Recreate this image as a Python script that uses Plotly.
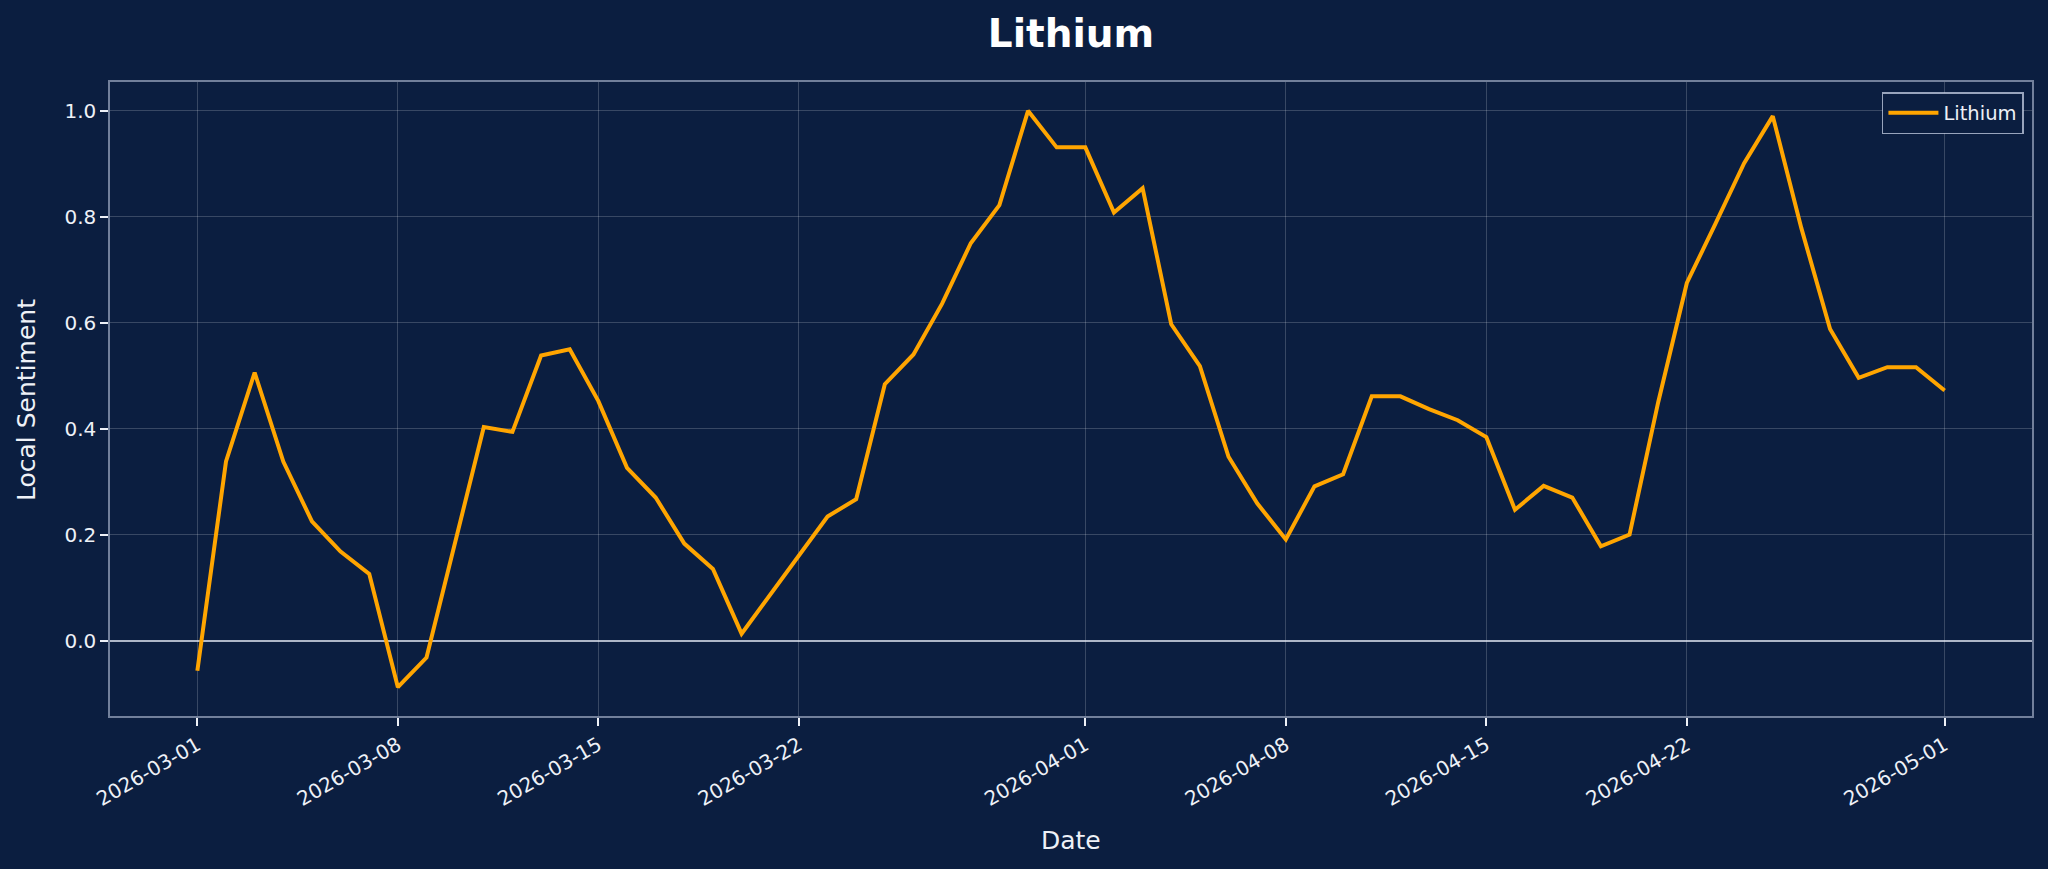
import pandas as pd
import plotly.graph_objects as go

# ---- data ----
start_date = "2026-03-01"
end_date = "2026-05-01"
dates = pd.date_range(start_date, end_date, freq="D")

sentiment = [
    -0.057, 0.338, 0.506, 0.338, 0.225, 0.168, 0.126, -0.088, -0.032, 0.186,
    0.403, 0.394, 0.538, 0.550, 0.452, 0.326, 0.270, 0.183, 0.135, 0.013,
    0.087, 0.160, 0.234, 0.267, 0.484, 0.540, 0.636, 0.750, 0.822, 1.000,
    0.931, 0.931, 0.808, 0.854, 0.597, 0.518, 0.347, 0.259, 0.191, 0.291,
    0.314, 0.461, 0.461, 0.437, 0.416, 0.384, 0.247, 0.292, 0.270, 0.178,
    0.200, 0.450, 0.675, 0.787, 0.901, 0.990, 0.778, 0.588, 0.496, 0.516,
    0.516, 0.472,
]

tick_dates = ["2026-03-01", "2026-03-08", "2026-03-15", "2026-03-22",
              "2026-04-01", "2026-04-08", "2026-04-15", "2026-04-22",
              "2026-05-01"]
y_ticks = [0.0, 0.2, 0.4, 0.6, 0.8, 1.0]

series_name = "Lithium"
title_text = "Lithium"
x_label = "Date"
y_label = "Local Sentiment"

# ---- styling ----
BG = "#0b1e40"
LINE = "#ffa500"
TXT = "#eef1f7"
GRID = "rgba(255,255,255,0.19)"
SPINE = "rgba(200,210,230,0.55)"
FONT = "DejaVu Sans"

W, H = 2048, 869
L, R, T, B = 110, 16, 82, 153

fig = go.Figure()
fig.add_trace(go.Scatter(
    x=dates, y=sentiment, mode="lines", name=series_name,
    line=dict(color=LINE, width=4),
))

span_days = (pd.Timestamp(end_date) - pd.Timestamp(start_date)).days
pad = pd.Timedelta(days=span_days * 0.05)
x_range = [pd.Timestamp(start_date) - pad, pd.Timestamp(end_date) + pad]
ymin, ymax = min(sentiment), max(sentiment)
ypad = (ymax - ymin) * 0.05
y_range = [ymin - ypad, ymax + ypad]

fig.update_layout(
    width=W, height=H,
    margin=dict(l=L, r=R, t=T, b=B, pad=0),
    paper_bgcolor=BG, plot_bgcolor=BG,
    font=dict(family=FONT, color=TXT, size=19),
    title=dict(text=f"<b>{title_text}</b>", x=0.5, xref="paper",
               y=1 - 33 / H, yref="container", yanchor="middle",
               xanchor="center", font=dict(size=39, color="#ffffff", family=FONT)),
    showlegend=True,
    legend=dict(x=0.9958, y=0.984, xanchor="right", yanchor="top",
                bgcolor=BG, bordercolor="rgba(200,210,230,0.75)", borderwidth=1.5,
                font=dict(size=19.5, color=TXT), itemwidth=50,
                tracegroupgap=0),
)

fig.update_xaxes(
    type="date", range=x_range,
    tickmode="array", tickvals=tick_dates, ticktext=tick_dates,
    tickangle=-30, tickfont=dict(size=20, color=TXT),
    ticks="outside", ticklen=8, tickwidth=1.5, tickcolor=TXT,
    showgrid=True, gridcolor=GRID, gridwidth=1,
    showline=True, linecolor=SPINE, linewidth=1.5, mirror=True,
    zeroline=False,
)
fig.update_yaxes(
    range=y_range,
    tickmode="array", tickvals=y_ticks, ticktext=[f"{v:.1f}" for v in y_ticks],
    tickfont=dict(size=20, color=TXT),
    ticks="outside", ticklen=8, tickwidth=1.5, tickcolor=TXT,
    showgrid=True, gridcolor=GRID, gridwidth=1,
    showline=True, linecolor=SPINE, linewidth=1.5, mirror=True,
    zeroline=True, zerolinecolor="rgba(230,235,245,0.75)", zerolinewidth=2,
)

plot_w = W - L - R
plot_h = H - T - B
fig.add_annotation(text=x_label, xref="paper", yref="paper",
                   x=0.5, y=-(840 - (H - B)) / plot_h, xanchor="center", yanchor="middle",
                   showarrow=False, font=dict(size=25, color=TXT))
fig.add_annotation(text=y_label, xref="paper", yref="paper",
                   x=-(L - 26) / plot_w, y=(H - B - 400) / plot_h,
                   xanchor="center", yanchor="middle", textangle=-90,
                   showarrow=False, font=dict(size=25, color=TXT))

fig.write_html(
    "out.html",
    config={"displayModeBar": False},
    post_script="document.body.style.margin='0';document.body.style.background='%s';" % BG,
)
